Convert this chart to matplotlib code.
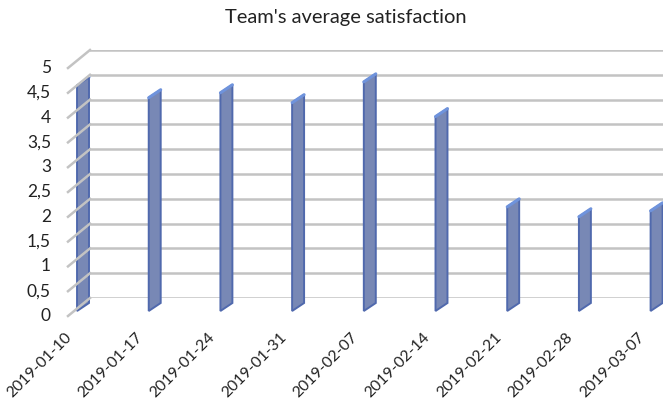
import numpy as np
import matplotlib
matplotlib.use("Agg")
import matplotlib.pyplot as plt
from matplotlib import transforms
from matplotlib.patches import Polygon
from matplotlib.lines import Line2D

# ---------------------------------------------------------------------------
# Data
# ---------------------------------------------------------------------------
dates = ["2019-01-10", "2019-01-17", "2019-01-24", "2019-01-31", "2019-02-07",
         "2019-02-14", "2019-02-21", "2019-02-28", "2019-03-07"]
satisfaction = [4.55, 4.3, 4.4, 4.2, 4.62, 3.92, 2.1, 1.9, 2.02]
y_ticks = [0, 0.5, 1, 1.5, 2, 2.5, 3, 3.5, 4, 4.5, 5]
y_labels = ["0", "0,5", "1", "1,5", "2", "2,5", "3", "3,5", "4", "4,5", "5"]

W, H, DPI = 663, 403, 100
plt.rcParams["font.family"] = ["Lato", "DejaVu Sans"]
TEXT = "#222222"
GRID = "#c3c3c3"

fig = plt.figure(figsize=(W / DPI, H / DPI), dpi=DPI)
# axes = back wall of the fake 3D chart
ax = fig.add_axes([90 / W, 105 / H, 573 / W, 248 / H])
ax.set_xlim(-0.056, 7.936)
ax.set_ylim(0, 5)
ax.axis("off")


def px(dx, dy):
    """Shift by (dx, dy) pixels in display space."""
    return transforms.ScaledTranslation(dx / DPI, dy / DPI, fig.dpi_scale_trans)


front = ax.transData + px(-22, -18)
mid = ax.transData + px(-11, -9)
ident = transforms.IdentityTransform()

# back wall gridlines + left wall diagonals
x0 = ax.get_xlim()[0]
for t in y_ticks:
    ax.axhline(t, color=GRID, lw=1.8, zorder=1)
    p_back = ax.transData.transform((x0, t))
    p_front = front.transform((x0, t))
    fig.add_artist(Line2D([p_front[0], p_back[0]], [p_front[1], p_back[1]],
                          transform=ident, color=GRID, lw=1.8))

# y tick labels on the front plane
for t, lab in zip(y_ticks, y_labels):
    ax.text(x0, t, lab, transform=front + px(-17, 0), ha="right", va="center",
            fontsize=12.5, color=TEXT, clip_on=False)

# bars as thin slanted columns at mid depth
bw = 0.167
for i, v in enumerate(satisfaction):
    xl, yb = mid.transform((i - bw / 2, 0))
    xr, yt = mid.transform((i + bw / 2, v))
    slant = 4
    body = Polygon([(xl, yb - slant), (xr, yb + slant), (xr, yt + slant), (xl, yt - slant)],
                   closed=True, transform=ident, facecolor="#7888b5",
                   edgecolor="#5069ad", lw=1.4, zorder=3, clip_on=False)
    ax.add_patch(body)
    cap = Line2D([xl, xr], [yt - slant, yt + slant], transform=ident,
                 color="#6f93dc", lw=2.2, zorder=4, solid_capstyle="round")
    ax.add_artist(cap)

# category labels
for i, d in enumerate(dates):
    ax.text(i, 0, d, transform=front + px(-3, -19), ha="right", va="center",
            rotation=45, rotation_mode="anchor", fontsize=11.3, color=TEXT,
            clip_on=False)

fig.text(346 / W, 1 - 17 / H, "Team's average satisfaction", ha="center", va="center",
         fontsize=14.5, color=TEXT)

fig.savefig("out.png", dpi=DPI)
